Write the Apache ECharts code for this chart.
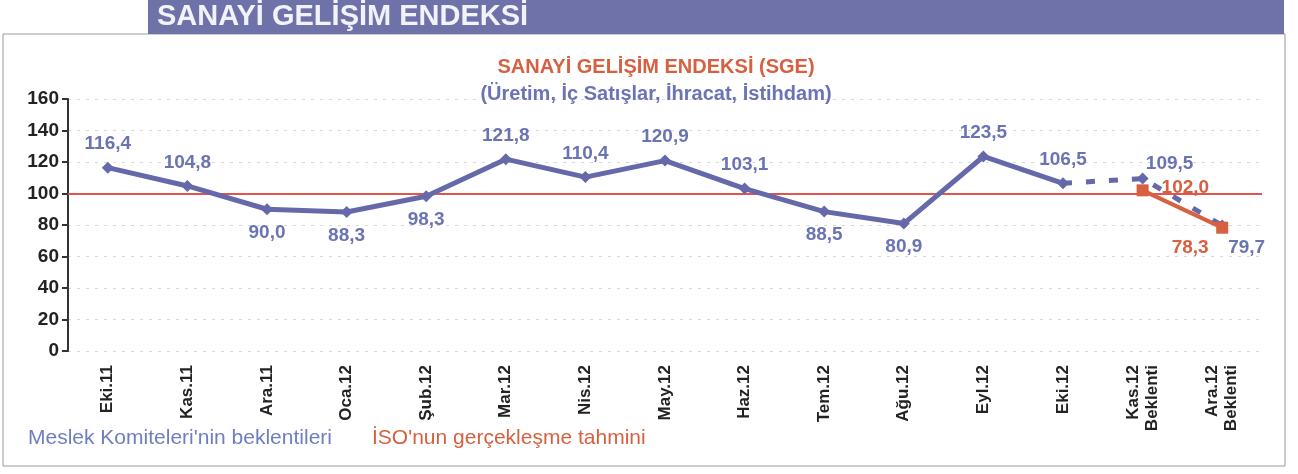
<!DOCTYPE html>
<html>
<head>
<meta charset="utf-8">
<style>
  html, body { margin: 0; padding: 0; background: #ffffff; }
  #chart { width: 1298px; height: 474px; }
</style>
<script src="https://cdn.jsdelivr.net/npm/echarts@6/dist/echarts.min.js"></script>
</head>
<body>
<div id="chart"></div>
<script>
// Months of the index; the last two are expectations
const categories = ['Eki.11', 'Kas.11', 'Ara.11', 'Oca.12', 'Şub.12', 'Mar.12', 'Nis.12', 'May.12',
  'Haz.12', 'Tem.12', 'Ağu.12', 'Eyl.12', 'Eki.12', 'Kas.12\nBeklenti', 'Ara.12\nBeklenti'];

// Realised index values (professional committees)
const realised = [116.4, 104.8, 90.0, 88.3, 98.3, 121.8, 110.4, 120.9, 103.1, 88.5, 80.9, 123.5, 106.5, null, null];
// Committee expectations for the coming months
const expected = [null, null, null, null, null, null, null, null, null, null, null, null, 106.5, 109.5, 79.7];
// ISO's own realisation estimate
const isoEstimate = [null, null, null, null, null, null, null, null, null, null, null, null, null, 102.0, 78.3];

const yTicks = [0, 20, 40, 60, 80, 100, 120, 140, 160];
const baseline = 100;

const BLUE = '#6569aa';
const BLUE_TXT = '#6a74b4';
const ORANGE = '#d6603f';
const RED = '#e2544c';
const FONT = '"Liberation Sans", Arial, sans-serif';

const fmt = v => v.toFixed(1).replace('.', ',');

// label placement for the realised points
const realisedPos = ['top', 'top', 'bottom', 'bottom', 'bottom', 'top', 'top', 'top', 'top', 'bottom', 'bottom', 'top', 'top'];

const labelFont = { fontFamily: FONT, fontWeight: 'bold', fontSize: 19 };

const realisedData = realised.map((v, i) => v === null ? null : {
  value: v,
  label: { show: true, position: realisedPos[i], distance: 8, formatter: fmt(v), color: BLUE_TXT, ...labelFont }
});

const expectedData = expected.map((v, i) => {
  if (v === null) return null;
  if (i === 13) return { value: v, label: { show: true, position: 'top', offset: [27, 6], formatter: fmt(v), color: BLUE_TXT, ...labelFont } };
  if (i === 14) return { value: v, label: { show: true, position: 'right', offset: [-5, 22], formatter: fmt(v), color: BLUE_TXT, ...labelFont } };
  return { value: v, symbol: 'none', label: { show: false } };
});

const isoData = isoEstimate.map((v, i) => {
  if (v === null) return null;
  if (i === 13) return { value: v, label: { show: true, position: 'right', offset: [8, -3], formatter: fmt(v), color: ORANGE, ...labelFont } };
  return { value: v, label: { show: true, position: 'bottom', offset: [-32, 0], formatter: fmt(v), color: ORANGE, ...labelFont } };
});

const chart = echarts.init(document.getElementById('chart'), null, { renderer: 'canvas' });

chart.setOption({
  backgroundColor: '#ffffff',
  animation: false,
  graphic: [
    // outer frame
    { type: 'rect', shape: { x: 3, y: 34, width: 1282, height: 432 }, style: { fill: 'none', stroke: '#9a9a9a', lineWidth: 1 }, silent: true },
    // section banner
    { type: 'rect', shape: { x: 148, y: 0, width: 1136, height: 34 }, style: { fill: '#6e72a8' }, silent: true },
    { type: 'text', left: 157, top: 2, style: { text: 'SANAYİ GELİŞİM ENDEKSİ', fill: '#f2f2fa', font: 'bold 29px ' + FONT } },
    // footnotes
    { type: 'text', left: 28, top: 428, style: { text: "Meslek Komiteleri'nin beklentileri", fill: '#6d7fbf', font: '21px ' + FONT } },
    { type: 'text', left: 372, top: 428, style: { text: "İSO'nun gerçekleşme tahmini", fill: ORANGE, font: '21px ' + FONT } }
  ],
  title: {
    text: 'SANAYİ GELİŞİM ENDEKSİ (SGE)',
    subtext: '(Üretim, İç Satışlar, İhracat, İstihdam)',
    left: 651, top: 52, textAlign: 'center', itemGap: 7,
    textStyle: { color: ORANGE, fontSize: 20, fontWeight: 'bold', fontFamily: FONT },
    subtextStyle: { color: BLUE_TXT, fontSize: 20, fontWeight: 'bold', fontFamily: FONT }
  },
  grid: { left: 68, top: 99, width: 1194, height: 252, containLabel: false },
  xAxis: {
    type: 'category',
    data: categories,
    boundaryGap: true,
    axisLine: { show: false },
    axisTick: { show: false },
    axisLabel: {
      rotate: 90, interval: 0, margin: 14, color: '#222222', lineHeight: 19,
      fontSize: 17, fontWeight: 'bold', fontFamily: FONT
    },
    splitLine: { show: false }
  },
  yAxis: {
    type: 'value',
    min: yTicks[0], max: yTicks[yTicks.length - 1], interval: 20,
    axisLine: { show: true, lineStyle: { color: '#333333', width: 2 } },
    axisTick: { show: true, inside: false, length: 6, lineStyle: { color: '#333333', width: 2 } },
    axisLabel: { color: '#222222', fontSize: 19, fontWeight: 'bold', margin: 9, fontFamily: FONT },
    splitLine: { show: true, lineStyle: { color: '#d8d8d8', type: [3, 6], width: 1 } }
  },
  series: [
    {
      name: 'Meslek Komiteleri',
      type: 'line',
      data: realisedData,
      symbol: 'diamond', symbolSize: 12,
      lineStyle: { color: BLUE, width: 5 },
      itemStyle: { color: BLUE },
      z: 4,
      markLine: {
        silent: true, symbol: 'none', label: { show: false },
        lineStyle: { color: RED, width: 2, type: 'solid' },
        data: [{ yAxis: baseline }],
        z: 2
      }
    },
    {
      name: 'Beklenti',
      type: 'line',
      data: expectedData,
      connectNulls: false,
      symbol: 'diamond', symbolSize: 12,
      lineStyle: { color: BLUE, width: 5, type: [9, 14] },
      itemStyle: { color: BLUE },
      z: 5
    },
    {
      name: 'İSO tahmini',
      type: 'line',
      data: isoData,
      symbol: 'rect', symbolSize: 12,
      lineStyle: { color: ORANGE, width: 4 },
      itemStyle: { color: ORANGE },
      z: 6
    }
  ]
});
</script>
</body>
</html>
